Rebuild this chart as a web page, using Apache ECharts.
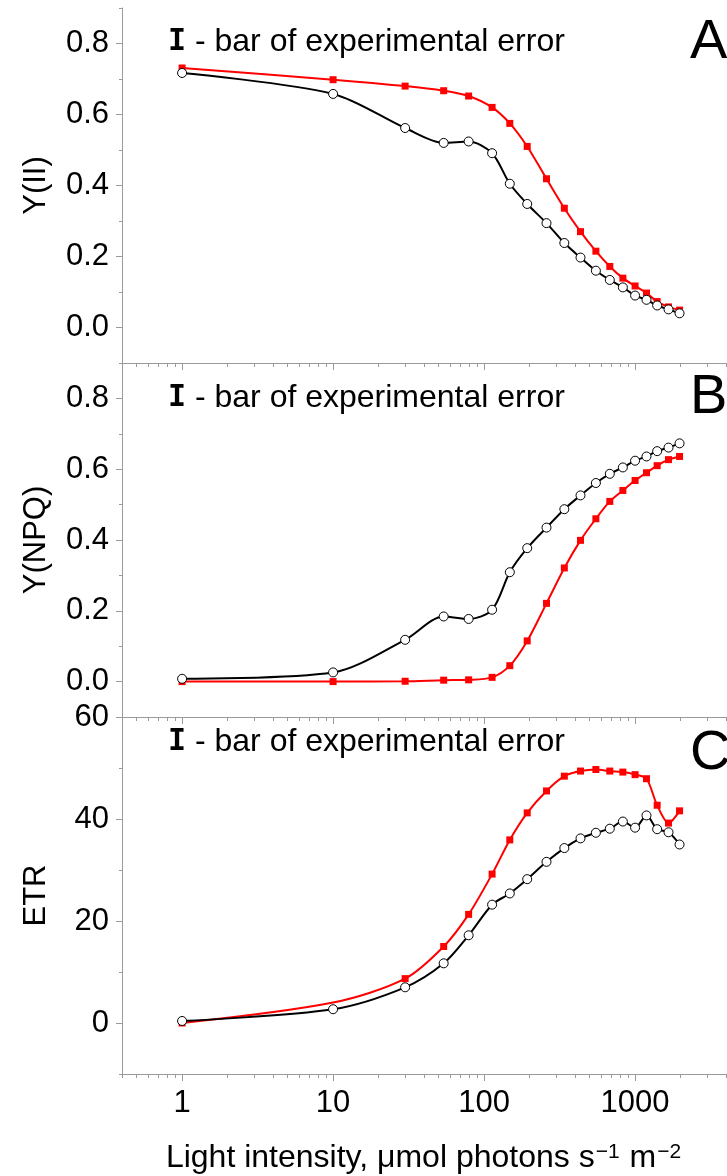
<!DOCTYPE html>
<html>
<head>
<meta charset="utf-8">
<script src="https://cdn.jsdelivr.net/npm/echarts@6/dist/echarts.min.js"></script>
<style>
html, body { margin: 0; padding: 0; background: #fff; }
#chart { width: 727px; height: 1176px; }
</style>
</head>
<body>
<div id="chart"></div>
<script>
// light intensity steps (umol photons s-1 m-2)
const light = [1, 10, 30, 54, 79, 113, 148, 193, 259, 340, 435, 550, 680, 830, 1000, 1190, 1400, 1665, 1970]

// A - Y(II)
const yII_red = [0.731, 0.698, 0.680, 0.667, 0.652, 0.620, 0.575, 0.510, 0.419, 0.336, 0.270, 0.215, 0.172, 0.139, 0.117, 0.097, 0.073, 0.058, 0.049]
const yII_black = [0.717, 0.658, 0.562, 0.520, 0.524, 0.491, 0.405, 0.348, 0.294, 0.238, 0.197, 0.160, 0.134, 0.113, 0.090, 0.078, 0.062, 0.051, 0.040]

// B - Y(NPQ)
const yNPQ_red = [0.000, 0.000, 0.001, 0.004, 0.005, 0.012, 0.045, 0.115, 0.221, 0.321, 0.399, 0.460, 0.509, 0.540, 0.568, 0.590, 0.610, 0.627, 0.636]
const yNPQ_black = [0.008, 0.026, 0.118, 0.184, 0.177, 0.203, 0.309, 0.377, 0.435, 0.487, 0.526, 0.561, 0.587, 0.605, 0.624, 0.636, 0.651, 0.661, 0.673]

// C - ETR
const etr_red = [0.0, 4.0, 8.7, 15.0, 21.3, 29.2, 35.9, 41.2, 45.5, 48.4, 49.4, 49.7, 49.4, 49.2, 48.7, 47.9, 42.7, 39.2, 41.6]
const etr_black = [0.4, 2.7, 7.0, 11.7, 17.2, 23.2, 25.4, 28.2, 31.6, 34.3, 36.2, 37.3, 38.1, 39.5, 38.3, 40.7, 38.0, 37.4, 35.0]

// ticks
const xMajor = [1, 10, 100, 1000]
const xMinor = []
for (let d = -1; d <= 3; d++) {
  for (let k = 2; k <= 9; k++) {
    const v = k * Math.pow(10, d)
    if (v >= 0.39 && v <= 4001) xMinor.push(v)
  }
}
const yMajorAB = [0, 0.2, 0.4, 0.6, 0.8]
const yMinorAB = [-0.1, 0.1, 0.3, 0.5, 0.7, 0.9]
const yMajorC = [0, 20, 40, 60]
const yMinorC = [-10, 10, 30, 50]

const font = '"Liberation Sans", Arial, sans-serif'
const axisColor = '#9a9a9a'

const panels = [
  { top: 8, height: 355, min: -0.1, max: 0.9, major: yMajorAB, minor: yMinorAB, name: 'Y(II)', red: yII_red, black: yII_black, letter: 'A', textY: 42, letterY: 43, dec: 1 },
  { top: 363, height: 354, min: -0.1, max: 0.9, major: yMajorAB, minor: yMinorAB, name: 'Y(NPQ)', red: yNPQ_red, black: yNPQ_black, letter: 'B', textY: 398, letterY: 398, dec: 1 },
  { top: 717, height: 357, min: -10, max: 60, major: yMajorC, minor: yMinorC, name: 'ETR', red: etr_red, black: etr_black, letter: 'C', textY: 742, letterY: 754, dec: 0, hideRed: [1] }
]

const grid = []
const xAxis = []
const yAxis = []
const series = []
const graphic = []

panels.forEach(function(p, i) {
  grid.push({ left: 122, right: 1, top: p.top, height: p.height })
  const last = i === panels.length - 1
  // major x axis
  xAxis.push({
    type: 'log', gridIndex: i, min: 0.4, max: 4000, position: 'bottom',
    axisLine: { show: true, onZero: false, lineStyle: { color: axisColor, width: 1 } },
    axisTick: { show: true, length: 7, customValues: xMajor, lineStyle: { color: axisColor } },
    axisLabel: {
      show: last, customValues: xMajor, fontSize: 31, color: '#000', fontFamily: font, margin: 14,
      formatter: function(v) { return String(Math.round(v)) }
    },
    splitLine: { show: false },
    name: last ? 'Light intensity, μmol photons s{sup|−1} m{sup|−2}' : '',
    nameLocation: 'middle', nameGap: 68,
    nameTextStyle: {
      fontSize: 32, color: '#000', fontFamily: font,
      rich: { sup: { fontSize: 21, color: '#000', fontFamily: font, verticalAlign: 'top', padding: [0, 1, 0, 1] } }
    }
  })
  // minor x ticks
  xAxis.push({
    type: 'log', gridIndex: i, min: 0.4, max: 4000, position: 'bottom',
    axisLine: { show: false, onZero: false },
    axisTick: { show: true, length: 4, customValues: xMinor, lineStyle: { color: axisColor } },
    axisLabel: { show: false },
    splitLine: { show: false }
  })
  // major y axis
  yAxis.push({
    type: 'value', gridIndex: i, min: p.min, max: p.max, position: 'left',
    axisLine: { show: true, onZero: false, lineStyle: { color: axisColor, width: 1 } },
    axisTick: { show: true, length: 6, customValues: p.major, lineStyle: { color: axisColor } },
    axisLabel: {
      customValues: p.major, fontSize: 31, color: '#000', fontFamily: font, margin: 13,
      formatter: function(v) { return v.toFixed(p.dec) }
    },
    splitLine: { show: false },
    name: p.name, nameLocation: 'middle', nameGap: 70, nameRotate: 90,
    nameTextStyle: { fontSize: 31, color: '#000', fontFamily: font }
  })
  // minor y ticks
  yAxis.push({
    type: 'value', gridIndex: i, min: p.min, max: p.max, position: 'left',
    axisLine: { show: false, onZero: false },
    axisTick: { show: true, length: 3, customValues: p.minor, lineStyle: { color: axisColor } },
    axisLabel: { show: false },
    splitLine: { show: false }
  })

  const hide = p.hideRed || []
  series.push({
    type: 'line', xAxisIndex: 2 * i, yAxisIndex: 2 * i,
    data: light.map(function(x, k) {
      const item = { value: [x, p.red[k]] }
      if (hide.indexOf(k) >= 0) item.symbol = 'none'
      return item
    }),
    smooth: 0.3, symbol: 'rect', symbolSize: 7,
    itemStyle: { color: '#ff0000' },
    lineStyle: { color: '#ff0000', width: 2 },
    z: 2
  })
  series.push({
    type: 'line', xAxisIndex: 2 * i, yAxisIndex: 2 * i,
    data: light.map(function(x, k) { return [x, p.black[k]] }),
    smooth: 0.3, symbol: 'circle', symbolSize: 9, showAllSymbol: true,
    itemStyle: { color: '#fff', borderColor: '#000', borderWidth: 1 },
    lineStyle: { color: '#000', width: 2 },
    z: 3
  })

  graphic.push({
    type: 'text', x: 168, y: p.textY,
    style: {
      text: '{b|I} - bar of experimental error',
      font: '32px ' + font, fill: '#000', verticalAlign: 'middle',
      rich: { b: { fontSize: 30, fontWeight: 'bold', fontFamily: '"DejaVu Sans Mono", monospace', fill: '#000' } }
    }
  })
  graphic.push({
    type: 'text', x: 690, y: p.letterY,
    style: { text: p.letter, font: '56px ' + font, fill: '#000', verticalAlign: 'middle' }
  })
})

const chart = echarts.init(document.getElementById('chart'))
chart.setOption({
  animation: false,
  backgroundColor: '#fff',
  grid: grid,
  xAxis: xAxis,
  yAxis: yAxis,
  series: series,
  graphic: graphic
})
</script>
</body>
</html>
